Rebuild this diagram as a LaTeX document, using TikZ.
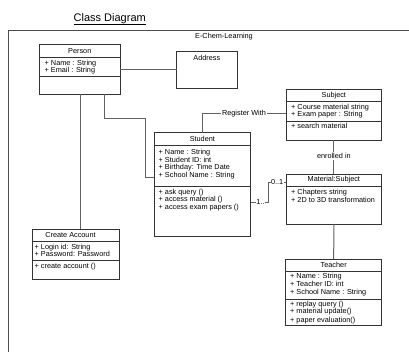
\documentclass[tikz,border=0pt]{standalone}
\usepackage{fontspec}
\setmainfont{Liberation Sans}
\begin{document}
\begin{tikzpicture}[x=1pt,y=-1pt,
  cls/.style={draw=black!80, line width=0.7pt, inner sep=0pt, outer sep=0pt, anchor=north west},
  div/.style={draw=black!80, line width=0.7pt},
  conn/.style={draw=black!62, line width=1pt},
  txt/.style={font=\fontsize{7.3}{8}\selectfont, inner sep=0pt, anchor=base west},
  ttl/.style={font=\fontsize{7.3}{8}\selectfont, inner sep=0pt, anchor=base},
  lbl/.style={font=\fontsize{7.3}{8}\selectfont, inner sep=1pt, fill=white}]
\useasboundingbox (0,0) rectangle (409,352);
\fill[white] (0,0) rectangle (409,352);

% title
\node[font=\fontsize{11}{13}\selectfont, anchor=base west, inner sep=0pt] (title) at (73.5,22) {Class Diagram};
\draw[line width=0.8pt] ([yshift=-2.3pt]title.base west) -- ([yshift=-2.3pt]title.base east);

% frame
\draw[draw=black!70, line width=0.9pt] (409,30) -- (8,30) -- (8,352);
\node[ttl] (pkg) at (224,38.5) {E-Chem-Learning};

% Person
\node[cls, minimum width=80.5pt, minimum height=49.5pt] (person) at (39.5,44.5) {};
\draw[div] (person.west |- 0,57.5) -- (person.east |- 0,57.5);
\draw[div] (person.west |- 0,76.7) -- (person.east |- 0,76.7);
\node[ttl] (pt) at (79.75,53.5) {Person};
\node[txt] (pa1) at (44.5,65.5) {+ Name : String};
\node[txt] (pa2) at (44.5,72.7) {+ Email : String};

% Address
\node[cls, minimum width=60.3pt, minimum height=36.3pt] (address) at (176.7,51.7) {};
\node[ttl] (at) at (206.8,60.3) {Address};

% Subject
\node[cls, minimum width=95.7pt, minimum height=51pt] (subject) at (286,89) {};
\draw[div] (subject.west |- 0,101) -- (subject.east |- 0,101);
\draw[div] (subject.west |- 0,121) -- (subject.east |- 0,121);
\node[ttl] (st) at (333.85,97.5) {Subject};
\node[txt] (sa1) at (291,109.5) {+ Course material string};
\node[txt] (sa2) at (291,117) {+ Exam paper : String};
\node[txt] (sm) at (291,128.5) {+ search material};

% Student
\node[cls, minimum width=96.7pt, minimum height=103.3pt] (student) at (154,132.7) {};
\draw[div] (student.west |- 0,145) -- (student.east |- 0,145);
\draw[div] (student.west |- 0,186.7) -- (student.east |- 0,186.7);
\node[ttl] (stt) at (202.35,142) {Student};
\node[txt] (su1) at (158.5,154.6) {+ Name : String};
\node[txt] (su2) at (158.5,162.3) {+ Student ID: int};
\node[txt] (su3) at (158.5,170) {+ Birthday: Time Date};
\node[txt] (su4) at (158.5,177.6) {+ School Name : String};
\node[txt] (sm1t) at (158.5,194.3) {+ ask query ()};
\node[txt] (sm2t) at (158.5,202) {+ access material ()};
\node[txt] (sm3t) at (158.5,210) {+ access exam papers ()};

% Material:Subject
\node[cls, minimum width=95.7pt, minimum height=50pt] (material) at (286,174) {};
\draw[div] (material.west |- 0,186) -- (material.east |- 0,186);
\node[ttl] (mt) at (333.85,182) {Material:Subject};
\node[txt] (ma1) at (291,194.6) {+ Chapters string};
\node[txt] (ma2) at (291,202.5) {+ 2D to 3D transformation};

% Teacher
\node[cls, minimum width=96pt, minimum height=66pt] (teacher) at (285.7,259) {};
\draw[div] (teacher.west |- 0,271.7) -- (teacher.east |- 0,271.7);
\draw[div] (teacher.west |- 0,299.3) -- (teacher.east |- 0,299.3);
\node[ttl] (tt) at (333.7,268) {Teacher};
\node[txt] (ta1) at (290,278.6) {+ Name : String};
\node[txt] (ta2) at (290,287) {+ Teacher ID: int};
\node[txt] (ta3) at (290,294.6) {+ School Name : String};
\node[txt] (tm1) at (290,306.3) {+ replay query ()};
\node[txt] (tm2) at (290,313) {+ material update()};
\node[txt] (tm3) at (290,322) {+ paper evaluation()};

% Create Account
\node[cls, minimum width=86.6pt, minimum height=50pt] (create) at (32.7,229) {};
\draw[div] (create.west |- 0,241.7) -- (create.east |- 0,241.7);
\draw[div] (create.west |- 0,260) -- (create.east |- 0,260);
\node[ttl] (ct) at (70.5,237.6) {Create Account};
\node[txt] (ca1) at (34.5,249.3) {+ Login id: String};
\node[txt] (ca2) at (34.5,256.3) {+ Password: Password};
\node[txt] (cm1) at (34.5,268.6) {+ create account ()};

% connectors
\coordinate (pa) at (80,94);
\draw[conn] (person.east |- 0,69.3) -- (address.west |- 0,69.3);
\draw[conn] (pa) -- (pa |- create.north);
\coordinate (ps0) at (104,94);
\coordinate (ps1) at (145.5,118.3);
\coordinate (ps2) at (145.5,177.3);
\draw[conn] (ps0) |- (ps1) -- (ps2) -- (ps2 -| student.west);

\coordinate (rw) at (244,113.7);
\draw[conn] (student.north) |- (subject.west |- rw);
\node[lbl] (rwl) at (rw) {Register With};

\draw[conn] (subject.south) -- (material.north);
\node[lbl] (enr) at (333.85,156) {enrolled in};
\draw[conn] (material.south) -- (teacher.north);

\coordinate (sm1) at (268.3,202.3);
\coordinate (sm2) at (268.3,182.3);
\draw[conn] (student.east |- sm1) -- (sm1) -- (sm2) -- (sm2 -| material.west);
\node[lbl, inner sep=0.6pt] (m1) at (260.5,202.3) {1..};
\node[lbl, inner sep=0.6pt, anchor=west] (m2) at (270.3,182.3) {0..1};
\end{tikzpicture}
\end{document}
